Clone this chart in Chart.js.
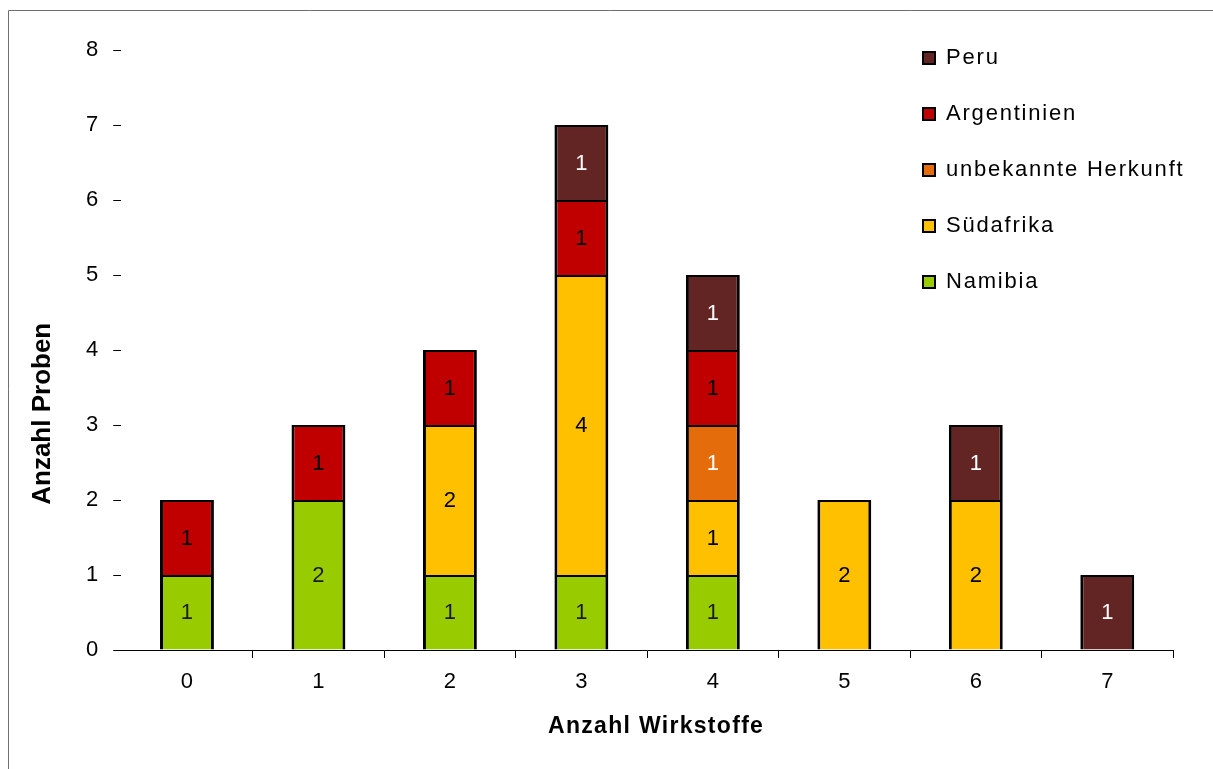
<!DOCTYPE html>
<html>
<head>
<meta charset="utf-8">
<title>Anzahl Proben nach Anzahl Wirkstoffe</title>
<script src="https://cdn.jsdelivr.net/npm/chart.js@4"></script>
<style>
  html, body { margin: 0; padding: 0; background: #fff; }
  canvas { display: block; }
</style>
</head>
<body>
<canvas id="chart" width="1213" height="769"></canvas>
<script>
// Number of active substances per sample (x categories)
const categories = ['0', '1', '2', '3', '4', '5', '6', '7'];

// Samples per origin, stacked bottom to top
const namibia      = [1, 2, 1, 1, 1, null, null, null];
const suedafrika   = [null, null, 2, 4, 1, 2, 2, null];
const unbekannt    = [null, null, null, null, 1, null, null, null];
const argentinien  = [1, 1, 1, 1, 1, null, null, null];
const peru         = [null, null, null, 1, 1, null, 1, 1];

const yTitle = 'Anzahl Proben';
const xTitle = 'Anzahl Wirkstoffe';

const FONT = '"Liberation Sans", Arial, sans-serif';

const segBorder = { top: 2, left: 3, right: 3, bottom: 0 };

function series(label, data, color, labelColor) {
  return {
    label, data,
    backgroundColor: color,
    borderColor: '#000',
    borderWidth: segBorder,
    borderSkipped: false,
    valueLabelColor: labelColor
  };
}

// Values written in the middle of each stacked segment
const segmentValues = {
  id: 'segmentValues',
  afterDatasetsDraw(chart) {
    const ctx = chart.ctx;
    ctx.save();
    ctx.font = '22px ' + FONT;
    ctx.textAlign = 'center';
    ctx.textBaseline = 'middle';
    chart.data.datasets.forEach((ds, di) => {
      const meta = chart.getDatasetMeta(di);
      if (meta.hidden) return;
      meta.data.forEach((bar, i) => {
        const v = ds.data[i];
        if (v === null || v === undefined) return;
        const { x, y, base } = bar.getProps(['x', 'y', 'base'], true);
        ctx.fillStyle = ds.valueLabelColor;
        ctx.fillText(String(v), x, (y + base) / 2 + 1);
      });
    });
    ctx.restore();
  }
};

// Thin frame along the top and left edge of the figure
const frame = {
  id: 'frame',
  beforeDraw(chart) {
    const ctx = chart.ctx;
    ctx.save();
    ctx.strokeStyle = '#6f6f6f';
    ctx.lineWidth = 1;
    ctx.beginPath();
    ctx.moveTo(8.5, chart.height);
    ctx.lineTo(8.5, 10.5);
    ctx.lineTo(chart.width, 10.5);
    ctx.stroke();
    ctx.restore();
  }
};

// Vertical axis title, set a little below the middle of the value axis
const valueAxisTitle = {
  id: 'valueAxisTitle',
  afterDraw(chart) {
    const ctx = chart.ctx;
    const y = chart.scales.y;
    ctx.save();
    ctx.font = 'bold 26px ' + FONT;
    ctx.fillStyle = '#000';
    ctx.textAlign = 'center';
    ctx.textBaseline = 'middle';
    ctx.translate(43, y.getPixelForValue(3.15));
    ctx.rotate(-Math.PI / 2);
    ctx.fillText(yTitle, 0, 0);
    ctx.restore();
  }
};

// Legend column in the upper right of the plot; wider-set lettering
// for the legend entries and the category axis title
const placement = {
  id: 'placement',
  afterLayout(chart) {
    const lg = chart.legend;
    if (lg) {
      lg.left = 889;
      lg.top = 13;
      lg.right = chart.width;
      lg.bottom = chart.height;
      if (!lg._spaced) {
        const draw = lg.draw;
        lg.draw = function (...args) {
          this.ctx.save();
          this.ctx.letterSpacing = '1.8px';
          draw.apply(this, args);
          this.ctx.restore();
        };
        lg._spaced = true;
      }
    }
    const xs = chart.scales.x;
    if (xs && !xs._spaced) {
      const drawTitle = xs.drawTitle;
      xs.drawTitle = function (...args) {
        this.ctx.save();
        this.ctx.letterSpacing = '1.3px';
        this.ctx.translate(9, 0);
        drawTitle.apply(this, args);
        this.ctx.restore();
      };
      xs._spaced = true;
    }
  }
};

const chart = new Chart(document.getElementById('chart'), {
  type: 'bar',
  data: {
    labels: categories,
    datasets: [
      series('Namibia', namibia, '#99CC00', '#1a1a1a'),
      series('Südafrika', suedafrika, '#FFC000', '#000'),
      series('unbekannte Herkunft', unbekannt, '#E46C0A', '#fff'),
      series('Argentinien', argentinien, '#C00000', '#000'),
      series('Peru', peru, '#632523', '#fff')
    ]
  },
  options: {
    responsive: false,
    devicePixelRatio: 1,
    animation: false,
    layout: { padding: { left: 71, right: 40, top: 50, bottom: 25 } },
    datasets: { bar: { categoryPercentage: 1, barPercentage: 0.41 } },
    scales: {
      x: {
        stacked: true,
        offset: true,
        grid: {
          offset: true,
          drawOnChartArea: false,
          drawTicks: true,
          tickLength: 8,
          lineWidth: 1,
          color: (c) => (c.index === 0 ? 'rgba(0,0,0,0)' : '#000')
        },
        border: { display: true, color: '#000', width: 1 },
        ticks: { color: '#000', font: { family: FONT, size: 22 }, padding: 11 },
        title: {
          display: true,
          text: xTitle,
          color: '#000',
          font: { family: FONT, size: 23, weight: 'bold' },
          padding: { top: 6, bottom: 4 }
        }
      },
      y: {
        stacked: true,
        min: 0,
        max: 8,
        grid: {
          drawOnChartArea: false,
          drawTicks: true,
          tickLength: 8,
          lineWidth: 1,
          color: '#000'
        },
        border: { display: false },
        ticks: { stepSize: 1, color: '#000', font: { family: FONT, size: 22 }, padding: 15 },
        title: { display: false }
      }
    },
    plugins: {
      tooltip: { enabled: false },
      legend: {
        position: 'chartArea',
        align: 'start',
        reverse: true,
        labels: {
          color: '#000',
          font: { family: FONT, size: 22 },
          boxWidth: 12,
          boxHeight: 12,
          padding: 34,
          generateLabels(chart) {
            const items = Chart.defaults.plugins.legend.labels.generateLabels(chart);
            items.forEach((it) => { it.lineWidth = 2; it.strokeStyle = '#000'; });
            return items;
          }
        }
      }
    }
  },
  plugins: [frame, segmentValues, valueAxisTitle, placement]
});
</script>
</body>
</html>
